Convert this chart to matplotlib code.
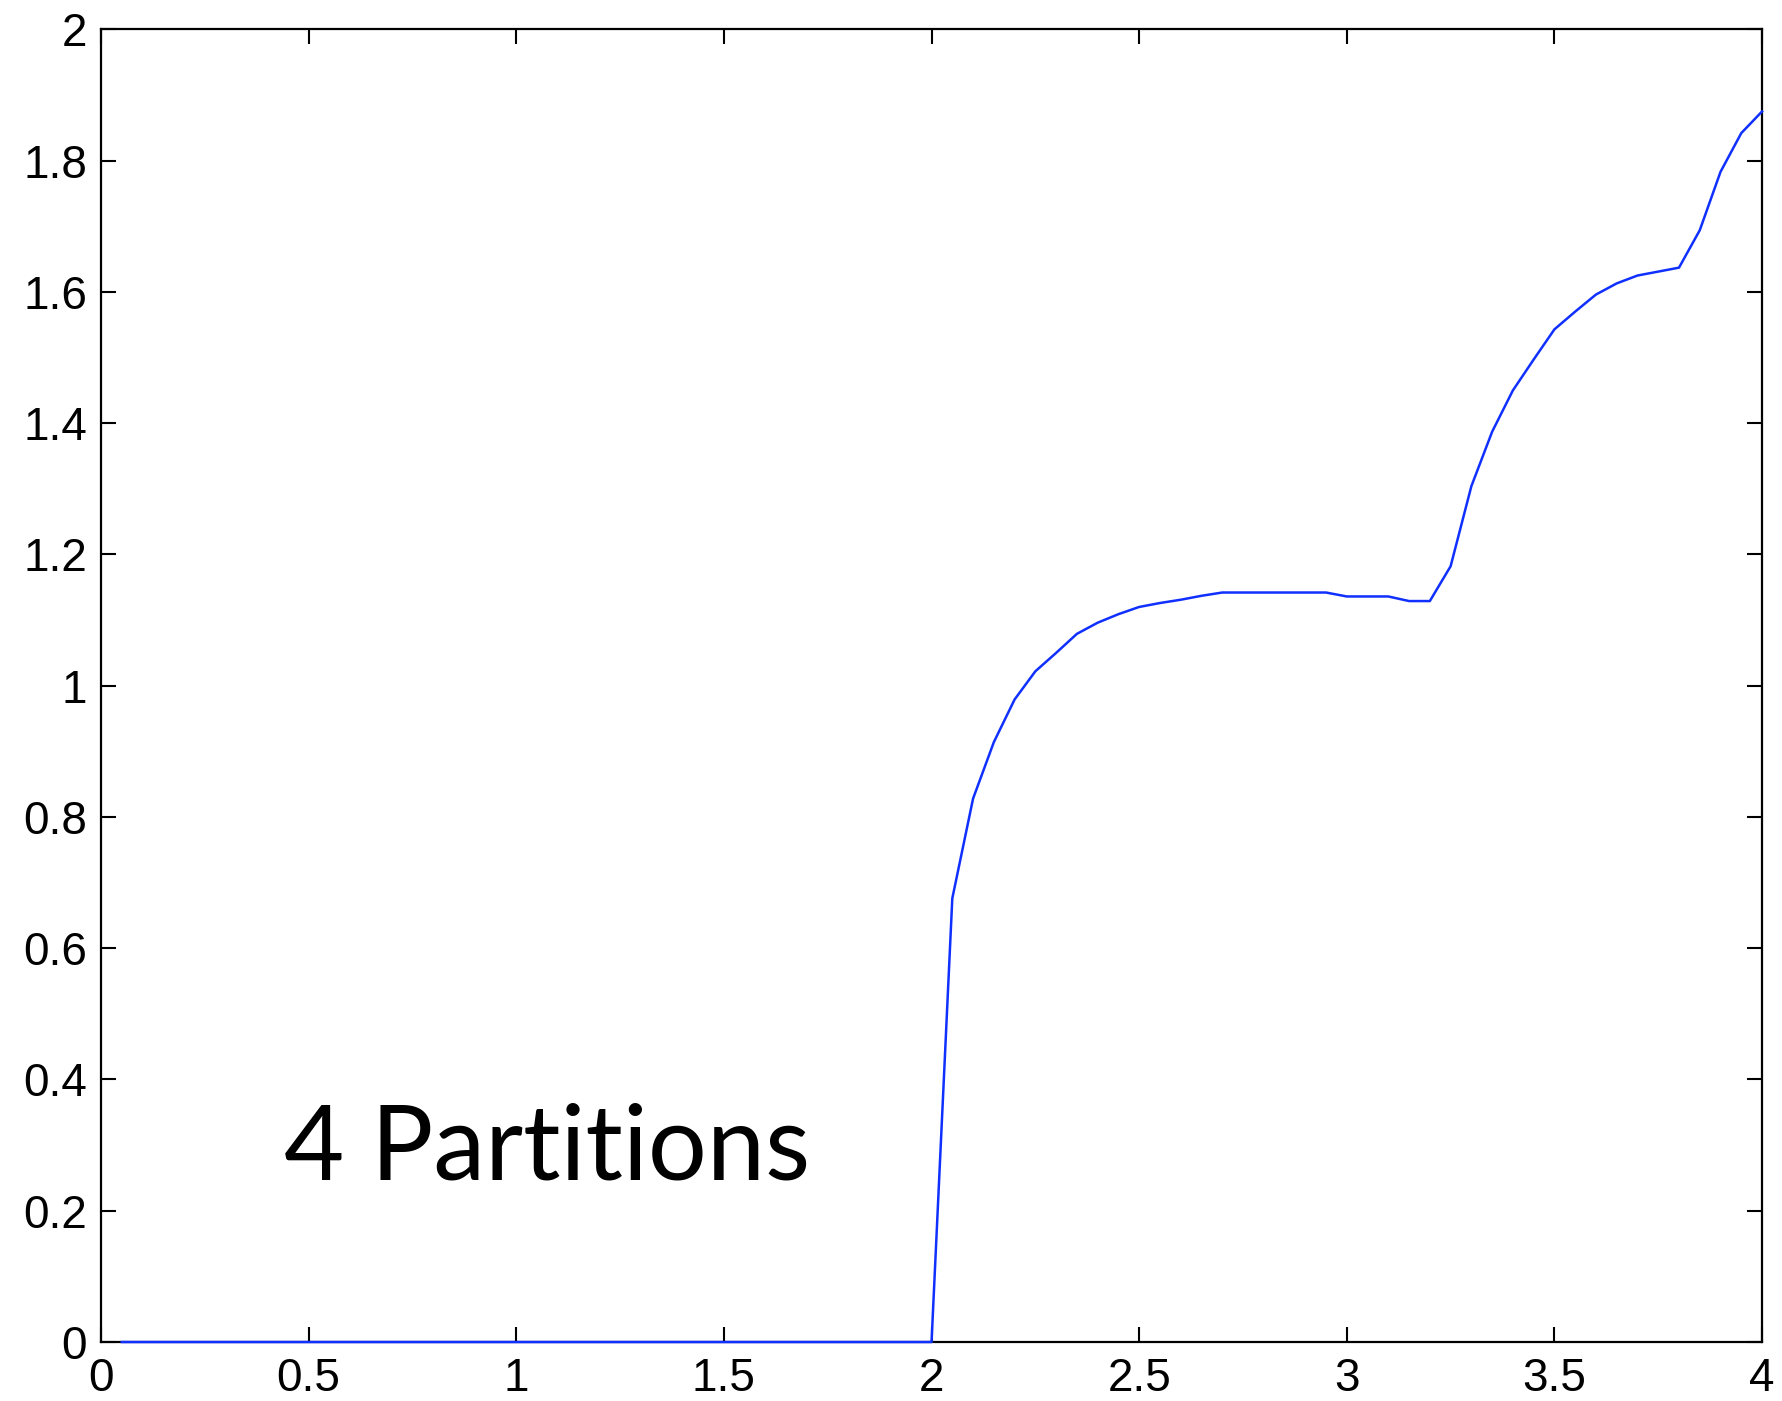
import matplotlib
matplotlib.use('Agg')
from matplotlib import pyplot as plt
from matplotlib.ticker import FuncFormatter

# curve (zero from 0.05 up to 2)
x = [0.05, 2.0, 2.05, 2.10, 2.15, 2.20, 2.25, 2.30, 2.35, 2.40, 2.45, 2.50,
     2.55, 2.60, 2.65, 2.70, 2.75, 2.80, 2.85, 2.90, 2.95, 3.00, 3.05, 3.10,
     3.15, 3.20, 3.25, 3.30, 3.35, 3.40, 3.45, 3.50, 3.55, 3.60, 3.65, 3.70,
     3.75, 3.80, 3.85, 3.90, 3.95, 4.00]
y = [0, 0, 0.676, 0.828, 0.914, 0.979, 1.022, 1.050, 1.079, 1.096, 1.109, 1.120,
     1.126, 1.131, 1.137, 1.142, 1.142, 1.142, 1.142, 1.142, 1.142, 1.136, 1.136, 1.136,
     1.129, 1.129, 1.182, 1.304, 1.387, 1.450, 1.497, 1.543, 1.570, 1.596, 1.613, 1.625,
     1.631, 1.637, 1.694, 1.783, 1.842, 1.875]

xticks = [0, 0.5, 1, 1.5, 2, 2.5, 3, 3.5, 4]
yticks = [0, 0.2, 0.4, 0.6, 0.8, 1, 1.2, 1.4, 1.6, 1.8, 2]
label = '4 Partitions'

plt.rcParams['font.family'] = ['Liberation Sans', 'DejaVu Sans']

fig = plt.figure(figsize=(17.82, 14.01), dpi=100)
ax = fig.add_axes([0.0567, 0.0421, 0.9321, 0.9369])

ax.plot(x, y, c='#1030ff', lw=1.8, zorder=3, clip_on=False)

ax.set_xlim(0, 4)
ax.set_ylim(0, 2)
ax.set_xticks(xticks)
ax.set_yticks(yticks)
fmt = FuncFormatter(lambda v, p: '%g' % v)
ax.xaxis.set_major_formatter(fmt)
ax.yaxis.set_major_formatter(fmt)
ax.tick_params(direction='in', length=11, width=1.5, labelsize=33,
               top=True, right=True, color='black')
ax.tick_params(axis='x', pad=11)
ax.tick_params(axis='y', pad=10)
for s in ax.spines.values():
    s.set_linewidth(1.6)

ax.text(0.44, 0.247, label, fontsize=75, family=['Lato', 'DejaVu Sans'],
        ha='left', va='baseline')

fig.savefig('out.png', dpi=100)
